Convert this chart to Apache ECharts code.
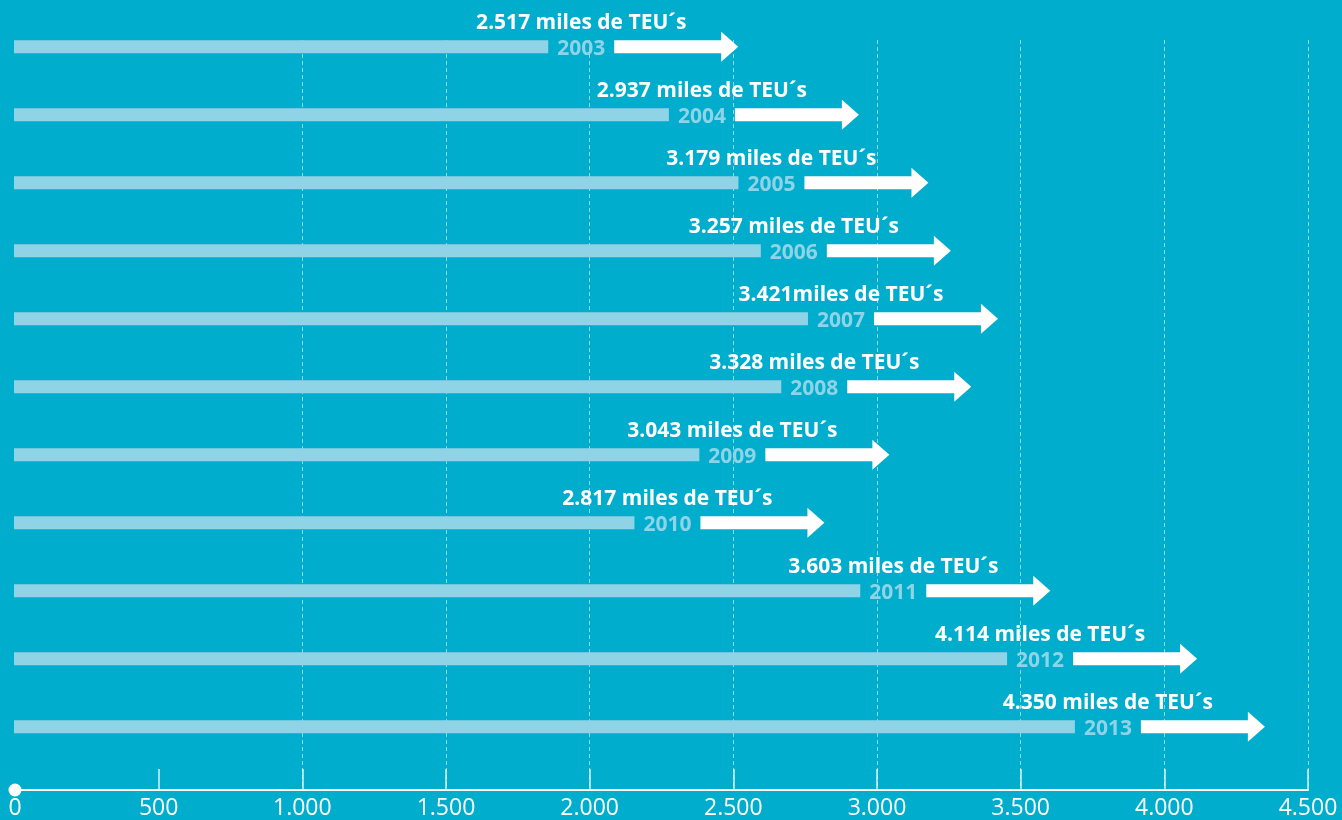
<!DOCTYPE html>
<html>
<head>
<meta charset="utf-8">
<script src="https://cdn.jsdelivr.net/npm/echarts@6/dist/echarts.min.js"></script>
<style>
  html, body { margin: 0; padding: 0; background: #00adcd; }
  #chart { width: 1342px; height: 820px; }
</style>
</head>
<body>
<div id="chart"></div>
<script>
// TEU moved per year (miles de TEU's)
var years = ['2003', '2004', '2005', '2006', '2007', '2008', '2009', '2010', '2011', '2012', '2013']
var teu = [2517, 2937, 3179, 3257, 3421, 3328, 3043, 2817, 3603, 4114, 4350]
var teuLabels = [
  '2.517 miles de TEU´s', '2.937 miles de TEU´s', '3.179 miles de TEU´s',
  '3.257 miles de TEU´s', '3.421miles de TEU´s', '3.328 miles de TEU´s',
  '3.043 miles de TEU´s', '2.817 miles de TEU´s', '3.603 miles de TEU´s',
  '4.114 miles de TEU´s', '4.350 miles de TEU´s'
]
var tickValues = [500, 1000, 1500, 2000, 2500, 3000, 3500, 4000, 4500]
var tickLabels = ['0', '500', '1.000', '1.500', '2.000', '2.500', '3.000', '3.500', '4.000', '4.500']

var FONT = '"Open Sans", "Noto Sans", sans-serif'
var BAR_COLOR = '#8fd4e6'

var chartData = []
for (var i = 0; i < teu.length; i++) {
  chartData.push([teu[i], i])
}

function renderArrow (params, api) {
  var idx = params.dataIndex
  var tip = api.coord([api.value(0), api.value(1)])
  var zero = api.coord([0, api.value(1)])
  var x = tip[0]
  var cy = tip[1]
  var h = 13
  return {
    type: 'group',
    children: [
      // light bar
      {
        type: 'rect',
        shape: { x: zero[0] - 1, y: cy - h / 2, width: x - 190 - zero[0] + 1, height: h },
        style: { fill: BAR_COLOR }
      },
      // year
      {
        type: 'text',
        x: x - 157,
        y: cy + 2,
        style: {
          text: years[idx],
          fill: BAR_COLOR,
          font: 'bold 21px ' + FONT,
          align: 'center',
          verticalAlign: 'middle'
        }
      },
      // arrow shaft
      {
        type: 'rect',
        shape: { x: x - 124, y: cy - h / 2, width: 108, height: h },
        style: { fill: '#fff' }
      },
      // arrow head
      {
        type: 'polygon',
        shape: { points: [[x - 17, cy - 15], [x, cy], [x - 17, cy + 15]] },
        style: { fill: '#fff' }
      },
      // value label
      {
        type: 'text',
        x: x - 157,
        y: cy - 24,
        style: {
          text: teuLabels[idx],
          fill: '#fff',
          font: 'bold 21px ' + FONT,
          align: 'center',
          verticalAlign: 'middle'
        }
      }
    ]
  }
}

var oChart = echarts.init(document.getElementById('chart'))
var opt = {
  backgroundColor: '#00adcd',
  animation: false,
  grid: {
    left: 15,
    right: 34,
    top: 40,
    bottom: 30
  },
  xAxis: {
    type: 'value',
    position: 'bottom',
    min: 0,
    max: 4500,
    interval: 500,
    axisLine: {
      show: true,
      onZero: false,
      symbol: ['circle', 'none'],
      symbolSize: [13, 13],
      lineStyle: { color: '#fff', width: 2 }
    },
    axisTick: {
      show: true,
      inside: true,
      length: 21,
      customValues: tickValues,
      lineStyle: { color: 'rgba(255,255,255,0.85)', width: 1.5 }
    },
    axisLabel: {
      color: '#fff',
      fontFamily: FONT,
      fontSize: 23,
      margin: 7,
      formatter: function (val) {
        return tickLabels[Math.round(val / 500)]
      }
    },
    splitLine: {
      show: true,
      showMinLine: false,
      lineStyle: { color: 'rgba(255,255,255,0.55)', type: [4, 3], width: 1 }
    }
  },
  yAxis: {
    type: 'value',
    inverse: true,
    min: -0.1,
    max: 10.93,
    show: false
  },
  series: [
    {
      name: 'TEU',
      type: 'custom',
      renderItem: renderArrow,
      encode: { x: 0, y: 1 },
      data: chartData
    }
  ]
}
oChart.setOption(opt)
</script>
</body>
</html>
